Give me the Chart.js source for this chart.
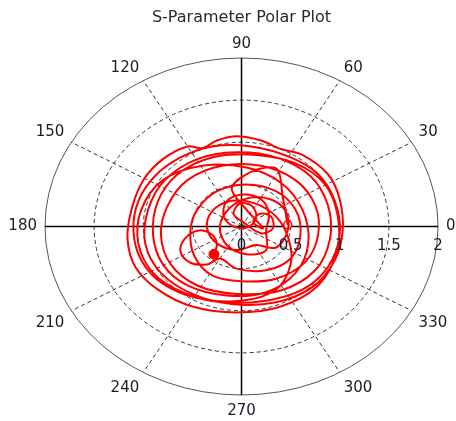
<!DOCTYPE html>
<html>
<head>
<meta charset="utf-8">
<script src="https://cdn.jsdelivr.net/npm/chart.js@4.4.0/dist/chart.umd.min.js"></script>
<style>
  html, body { margin: 0; padding: 0; background: #fff; }
  #wrap { width: 456px; height: 421px; }
</style>
</head>
<body>
<div id="wrap"><canvas id="polarChart" width="456" height="421"></canvas></div>
<script>
// titolo e etichette
var chartTitle = "S-Parameter Polar Plot";
var angleTicks = [0, 30, 60, 90, 120, 150, 180, 210, 240, 270, 300, 330];
var radialTicks = [0.5, 1, 1.5, 2];
var radialLabels = ["0", "0.5", "1", "1.5", "2"];
var radialLabelValues = [0, 0.5, 1, 1.5, 2];

// dati S-parameter (parte reale e immaginaria)
var sReal = [
  -0.28, -0.25, -0.32, -0.45, -0.58, -0.62, -0.52, -0.35, -0.22,
  -0.05, 0.25, 0.50, 0.60, 0.55, 0.35, 0.05, -0.25, -0.45, -0.52, -0.48, -0.30, 0.00,
  0.35, 0.65, 0.78, 0.75, 0.55, 0.20, -0.20, -0.55, -0.75, -0.82, -0.72, -0.45, -0.05,
  0.40, 0.75, 0.90, 0.88, 0.70, 0.35, -0.05, -0.45, -0.78, -0.95, -0.98, -0.82, -0.50, -0.10,
  0.35, 0.72, 0.95, 1.03, 1.00, 0.88, 0.62, 0.40, 0.20, -0.05, -0.25, -0.40, -0.55, -0.80, -1.00, -1.12, -1.16, -1.08, -0.85, -0.50, -0.05,
  0.40, 0.78, 0.97, 0.98, 0.85, 0.55, 0.15, -0.30, -0.65, -0.85, -0.90, -0.80, -0.55, -0.15,
  0.25, 0.55, 0.68, 0.62, 0.40, 0.05, -0.40, -0.80, -1.02, -1.05, -0.90, -0.60, -0.20,
  0.25, 0.62, 0.88, 1.00, 0.95, 0.78, 0.50, 0.10, -0.30, -0.62, -0.88, -1.05, -1.10, -1.02, -0.80, -0.45, 0.00,
  0.35, 0.50, 0.48, 0.35, 0.12, -0.12, -0.30, -0.35, -0.25, -0.05, 0.15,
  0.35, 0.47, 0.45, 0.30, 0.08, -0.12, -0.22, -0.15, 0.05, 0.25,
  0.25, 0.28, 0.20, 0.02, -0.15, -0.18, -0.08, 0.08, 0.15, 0.10, -0.02, -0.08, 0.02,
  0.20, 0.32, 0.30, 0.18, 0.12, 0.22,
  0.05, -0.10, 0.05, 0.25, 0.37, 0.42, 0.47
];
var sImag = [
  -0.33, -0.20, -0.08, -0.05, -0.15, -0.30, -0.43, -0.45, -0.38,
  -0.50, -0.52, -0.38, -0.10, 0.20, 0.42, 0.50, 0.42, 0.20, -0.05, -0.35, -0.58, -0.65,
  -0.62, -0.42, -0.10, 0.25, 0.55, 0.72, 0.72, 0.55, 0.25, -0.10, -0.45, -0.70, -0.80,
  -0.76, -0.52, -0.15, 0.25, 0.60, 0.82, 0.88, 0.80, 0.55, 0.20, -0.20, -0.55, -0.80, -0.92,
  -0.90, -0.72, -0.40, -0.05, 0.32, 0.62, 0.85, 0.92, 1.02, 1.07, 1.02, 0.93, 0.95, 0.80, 0.55, 0.20, -0.15, -0.48, -0.75, -0.95, -1.02,
  -0.95, -0.70, -0.30, 0.12, 0.50, 0.75, 0.85, 0.82, 0.62, 0.30, -0.10, -0.45, -0.70, -0.82,
  -0.78, -0.55, -0.20, 0.20, 0.52, 0.70, 0.72, 0.55, 0.20, -0.20, -0.55, -0.78, -0.90,
  -0.88, -0.75, -0.48, -0.10, 0.30, 0.62, 0.82, 0.95, 0.95, 0.82, 0.60, 0.30, -0.05, -0.40, -0.68, -0.85, -0.88,
  -0.75, -0.45, -0.15, 0.12, 0.28, 0.30, 0.18, -0.02, -0.20, -0.28, -0.22,
  -0.25, -0.05, 0.18, 0.32, 0.34, 0.22, 0.00, -0.22, -0.33, -0.28,
  -0.05, 0.15, 0.32, 0.38, 0.30, 0.12, 0.00, 0.00, 0.12, 0.25, 0.27, 0.15, 0.05,
  -0.08, -0.02, 0.12, 0.15, 0.05, -0.02,
  0.20, 0.45, 0.62, 0.70, 0.67, 0.35, 0.02
];

// plugin per griglia polare ed etichette
var polarGrid = {
  id: "polarGrid",
  beforeDatasetsDraw: function(chart) {
    var ctx = chart.ctx;
    var xs = chart.scales.x;
    var ys = chart.scales.y;
    var cx = xs.getPixelForValue(0);
    var cy = ys.getPixelForValue(0);
    ctx.save();

    // cerchi
    radialTicks.forEach(function(r) {
      var rx = xs.getPixelForValue(r) - cx;
      var ry = cy - ys.getPixelForValue(r);
      ctx.beginPath();
      ctx.ellipse(cx, cy, rx, ry, 0, 0, Math.PI * 2);
      if (r === radialTicks[radialTicks.length - 1]) {
        ctx.setLineDash([]);
        ctx.strokeStyle = "#555";
      } else {
        ctx.setLineDash([4, 3]);
        ctx.strokeStyle = "#333";
      }
      ctx.lineWidth = 1;
      ctx.stroke();
    });

    // raggi
    var rmax = radialTicks[radialTicks.length - 1];
    angleTicks.forEach(function(a) {
      var t = a * Math.PI / 180;
      var px = xs.getPixelForValue(rmax * Math.cos(t));
      var py = ys.getPixelForValue(rmax * Math.sin(t));
      ctx.beginPath();
      ctx.moveTo(cx, cy);
      ctx.lineTo(px, py);
      if (a % 90 === 0) {
        ctx.setLineDash([]);
        ctx.strokeStyle = "#000";
        ctx.lineWidth = 1.5;
      } else {
        ctx.setLineDash([4, 3]);
        ctx.strokeStyle = "#333";
        ctx.lineWidth = 1;
      }
      ctx.stroke();
    });
    ctx.restore();
  },
  afterDatasetsDraw: function(chart) {
    var ctx = chart.ctx;
    var xs = chart.scales.x;
    var ys = chart.scales.y;
    var cx = xs.getPixelForValue(0);
    var cy = ys.getPixelForValue(0);
    var rmax = radialTicks[radialTicks.length - 1];
    ctx.save();
    ctx.fillStyle = "#1c1c2a";
    ctx.font = "15px 'DejaVu Sans'";

    // etichette angoli
    angleTicks.forEach(function(a) {
      var t = a * Math.PI / 180;
      var c = Math.cos(t), s = Math.sin(t);
      var px = xs.getPixelForValue(rmax * c) + c * 8;
      var py = ys.getPixelForValue(rmax * s) - s * (s > 0 ? 6 : 9);
      ctx.textAlign = c > 0.1 ? "left" : (c < -0.1 ? "right" : "center");
      ctx.textBaseline = s > 0.1 ? "bottom" : (s < -0.1 ? "top" : "middle");
      ctx.fillText(String(a), px, py);
    });

    // etichette raggio
    ctx.textAlign = "center";
    ctx.textBaseline = "middle";
    radialLabels.forEach(function(lab, i) {
      ctx.fillText(lab, xs.getPixelForValue(radialLabelValues[i]), cy + 20);
    });

    // titolo
    ctx.fillStyle = "#2a2a2a";
    ctx.font = "16px 'DejaVu Sans'";
    ctx.fillText(chartTitle, cx, 18);
    ctx.restore();
  }
};

// punti della curva
function getPoints() {
  var punti = [];
  for (var i = 0; i < sReal.length; i++) {
    punti.push({ x: sReal[i], y: sImag[i] });
  }
  return punti;
}

// funzione per creare il chart
function printChart() {
  var ctx = document.getElementById("polarChart").getContext("2d");
  var punti = getPoints();
  var myChart = new Chart(ctx, {
    type: "scatter",
    data: {
      datasets: [{
        label: "S11",
        data: punti,
        showLine: true,
        borderColor: "rgb(255, 0, 0)",
        borderWidth: 2,
        pointRadius: 0,
        tension: 0.35,
        fill: false
      },
      {
        label: "start",
        data: [punti[0]],
        pointRadius: 5,
        backgroundColor: "rgb(255, 0, 0)",
        borderColor: "rgb(255, 0, 0)"
      },
      {
        label: "end",
        data: [punti[punti.length - 1]],
        pointRadius: 4,
        backgroundColor: "#fff",
        borderColor: "rgb(255, 0, 0)",
        borderWidth: 1.5
      }]
    },
    options: {
      responsive: false,
      animation: false,
      layout: { padding: { left: 45, right: 18, top: 58, bottom: 26 } },
      plugins: { legend: { display: false }, tooltip: { enabled: false } },
      scales: {
        x: { type: "linear", min: -2, max: 2, display: false },
        y: { type: "linear", min: -2, max: 2, display: false }
      }
    },
    plugins: [polarGrid]
  });
}

printChart();
</script>
</body>
</html>
